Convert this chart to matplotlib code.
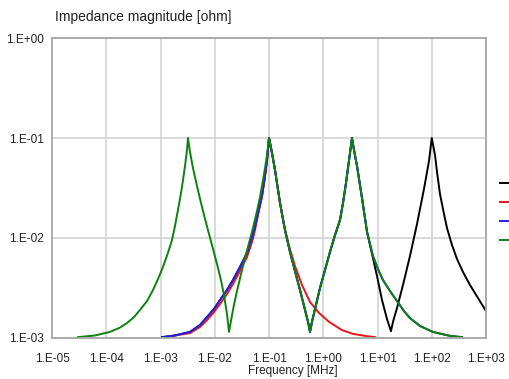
import math
import matplotlib
matplotlib.use("Agg")
import matplotlib.pyplot as plt
from matplotlib.ticker import FixedLocator, FuncFormatter, NullLocator

plt.rcParams['font.family'] = ['Liberation Sans', 'DejaVu Sans']

# frequency [MHz] / impedance [ohm]
# green: low-frequency resonance and rise to the 0.1 MHz peak
green_head_f = [3.01e-5, 6.2e-5, 1.17e-4, 1.79e-4, 2.41e-4, 3.25e-4, 4.19e-4, 5.64e-4, 7.28e-4,
                8.99e-4, 1.11e-3, 1.37e-3, 1.63e-3, 1.85e-3, 2.10e-3, 2.39e-3, 2.60e-3, 2.83e-3,
                3.08e-3, 3.21e-3, 3.50e-3, 3.97e-3, 4.71e-3, 5.58e-3, 6.61e-3, 7.83e-3, 9.29e-3,
                1.10e-2, 1.30e-2, 1.48e-2, 1.68e-2, 1.83e-2, 1.99e-2, 2.26e-2, 2.57e-2, 3.05e-2,
                3.61e-2, 4.28e-2, 5.07e-2, 6.01e-2, 6.83e-2, 7.75e-2, 8.44e-2, 9.19e-2, 0.1]
green_head_z = [1.02e-3, 1.06e-3, 1.15e-3, 1.27e-3, 1.41e-3, 1.62e-3, 1.91e-3, 2.34e-3, 3.02e-3,
                3.89e-3, 5.13e-3, 7.08e-3, 9.55e-3, 1.32e-2, 1.91e-2, 2.82e-2, 3.80e-2, 5.25e-2,
                7.59e-2, 0.1, 7.24e-2, 5.01e-2, 3.31e-2, 2.24e-2, 1.55e-2, 1.10e-2, 7.76e-3,
                5.50e-3, 3.80e-3, 2.69e-3, 1.74e-3, 1.15e-3, 1.48e-3, 2.14e-3, 2.95e-3, 4.37e-3,
                6.31e-3, 8.91e-3, 1.26e-2, 1.86e-2, 2.57e-2, 3.80e-2, 5.01e-2, 6.76e-2, 0.1]

# blue (and black, hidden below it): rise to the 0.1 MHz peak
blue_head_f = [1.066e-3, 1.85e-3, 3.50e-3, 5.35e-3, 7.20e-3, 9.69e-3, 1.25e-2, 1.68e-2, 2.17e-2,
               2.92e-2, 3.93e-2, 4.86e-2, 5.52e-2, 6.27e-2, 7.43e-2, 8.44e-2, 9.19e-2, 0.1]
blue_head_z = [1.02e-3, 1.06e-3, 1.15e-3, 1.35e-3, 1.62e-3, 1.95e-3, 2.40e-3, 3.02e-3, 3.80e-3,
               5.13e-3, 7.08e-3, 1.0e-2, 1.29e-2, 1.78e-2, 2.69e-2, 4.27e-2, 6.03e-2, 0.1]

# shared by black, blue and green: 0.1 MHz peak -> dip -> 3.4 MHz peak
mid_f = [0.1136, 0.129, 0.1596, 0.197, 0.244, 0.301, 0.373, 0.461, 0.524, 0.570, 0.620, 0.705,
         0.871, 1.077, 1.331, 1.647, 2.036, 2.312, 2.627, 2.859, 3.112, 3.388]
mid_z = [7.08e-2, 4.79e-2, 2.24e-2, 1.20e-2, 7.24e-3, 4.68e-3, 3.02e-3, 1.91e-3, 1.45e-3, 1.15e-3,
         1.45e-3, 1.95e-3, 3.16e-3, 4.79e-3, 7.24e-3, 1.07e-2, 1.51e-2, 2.24e-2, 3.55e-2, 5.01e-2,
         7.08e-2, 0.1]

# blue and green after the 3.4 MHz peak
tail_f = [3.688, 4.19, 5.18, 6.41, 8.26, 10.2, 12.6, 17.0, 22.9, 30.8, 39.7, 60.7, 105, 217, 361]
tail_z = [7.59e-2, 5.25e-2, 2.51e-2, 1.15e-2, 6.61e-3, 4.90e-3, 3.80e-3, 2.95e-3, 2.34e-3,
          1.86e-3, 1.58e-3, 1.32e-3, 1.15e-3, 1.05e-3, 1.02e-3]

# black after the 3.4 MHz peak: dip and 100 MHz peak
black_tail_f = [3.688, 4.19, 5.18, 6.41, 7.92, 9.79, 12.1, 14.96, 17.7, 19.3, 22.9, 29.5, 39.7,
                53.5, 71.9, 89.0, 100, 114.8, 125, 142, 168, 191, 236, 292, 377, 507, 712, 1000]
black_tail_z = [7.59e-2, 5.25e-2, 2.51e-2, 1.15e-2, 6.92e-3, 4.17e-3, 2.40e-3, 1.55e-3, 1.17e-3,
                1.45e-3, 2.0e-3, 3.39e-3, 6.61e-3, 1.38e-2, 3.09e-2, 5.89e-2, 0.1, 6.76e-2,
                4.57e-2, 2.75e-2, 1.74e-2, 1.26e-2, 8.51e-3, 6.17e-3, 4.57e-3, 3.39e-3, 2.51e-3,
                1.86e-3]

red_f = [1.21e-3, 3.50e-3, 5.35e-3, 7.20e-3, 9.69e-3, 1.25e-2, 1.68e-2, 2.17e-2, 2.92e-2, 3.93e-2,
         4.86e-2, 5.52e-2, 6.27e-2, 7.43e-2, 8.44e-2, 9.19e-2, 0.1, 0.1136, 0.129, 0.1596, 0.189,
         0.234, 0.301, 0.406, 0.570, 0.835, 1.276, 2.216, 3.535, 5.88, 8.99]
red_z = [1.02e-3, 1.12e-3, 1.29e-3, 1.51e-3, 1.82e-3, 2.19e-3, 2.75e-3, 3.47e-3, 4.68e-3, 6.46e-3,
         9.12e-3, 1.20e-2, 1.70e-2, 2.57e-2, 4.07e-2, 5.89e-2, 0.1, 7.08e-2, 4.79e-2, 2.24e-2,
         1.35e-2, 8.32e-3, 5.25e-3, 3.39e-3, 2.29e-3, 1.78e-3, 1.45e-3, 1.20e-3, 1.10e-3, 1.05e-3,
         1.02e-3]

black_f = blue_head_f + mid_f + black_tail_f
black_z = blue_head_z + mid_z + black_tail_z
blue_f = blue_head_f + mid_f + tail_f
blue_z = blue_head_z + mid_z + tail_z
green_f = green_head_f + mid_f + tail_f
green_z = green_head_z + mid_z + tail_z

x_ticks = [1e-5, 1e-4, 1e-3, 1e-2, 1e-1, 1e0, 1e1, 1e2, 1e3]
y_ticks = [1e-3, 1e-2, 1e-1, 1e0]


def sci_label(v, pos):
    exp = int(round(math.log10(v)))
    return f"1.E{exp:+03d}"


fig = plt.figure(figsize=(5.09, 3.79), dpi=100)
ax = fig.add_axes([52 / 509, 41 / 379, 434 / 509, 300 / 379])

series = [(black_f, black_z, 'black'), (red_f, red_z, '#e8141c'),
          (blue_f, blue_z, '#1f1fe6'), (green_f, green_z, '#108010')]
handles = []
for f, z, c in series:
    line, = ax.plot(f, z, color=c, lw=1.4, solid_joinstyle='round')
    handles.append(line)

ax.set_xscale('log')
ax.set_yscale('log')
ax.set_xlim(1e-5, 1e3)
ax.set_ylim(1e-3, 1e0)
ax.xaxis.set_major_locator(FixedLocator(x_ticks))
ax.yaxis.set_major_locator(FixedLocator(y_ticks))
ax.xaxis.set_minor_locator(NullLocator())
ax.yaxis.set_minor_locator(NullLocator())
ax.xaxis.set_major_formatter(FuncFormatter(sci_label))
ax.yaxis.set_major_formatter(FuncFormatter(sci_label))
ax.tick_params(axis='both', length=0, labelsize=8.5, colors='#222222')
ax.tick_params(axis='x', pad=10.5)
ax.tick_params(axis='y', pad=6)

ax.grid(True, color='#cfcfcf', lw=1.1)
ax.set_axisbelow(True)
for s in ax.spines.values():
    s.set_color('#a6a6a6')
    s.set_linewidth(1.3)

fig.text(55 / 509, 1 - 17 / 379, 'Impedance magnitude [ohm]', fontsize=10,
         va='center', ha='left', color='#222222')
fig.text(293 / 509, 1 - 371 / 379, 'Frequency [MHz]', fontsize=8.5,
         va='center', ha='center', color='#222222')

fig.legend(handles, [''] * 4, loc='upper left', bbox_to_anchor=(500 / 509, 1 - 179 / 379),
           frameon=False, borderpad=0, borderaxespad=0, handlelength=2.5,
           fontsize=8, labelspacing=0.81)

fig.savefig('out.png', dpi=100)
